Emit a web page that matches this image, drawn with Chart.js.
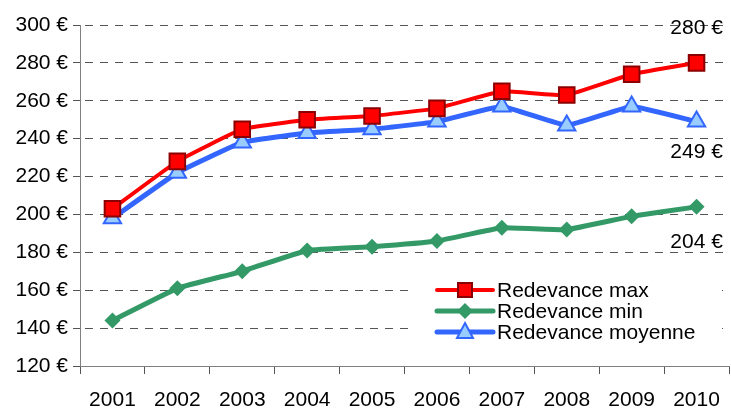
<!DOCTYPE html>
<html>
<head>
<meta charset="utf-8">
<script src="https://cdn.jsdelivr.net/npm/chart.js@4/dist/chart.umd.min.js"></script>
<style>
  html, body { margin: 0; padding: 0; background: #fff; }
  #wrap { width: 731px; height: 410px; }
</style>
</head>
<body>
<div id="wrap"><canvas id="chart-line"></canvas></div>
<script>
const years = ["2001", "2002", "2003", "2004", "2005", "2006", "2007", "2008", "2009", "2010"];
const redevanceMax = [203, 228, 245, 250, 252, 256, 265, 263, 274, 280];
const redevanceMin = [144, 161, 170, 181, 183, 186, 193, 192, 199, 204];
const redevanceMoyenne = [198, 222, 238, 243, 245, 249, 257, 247, 257, 249];
const yTicks = [120, 140, 160, 180, 200, 220, 240, 260, 280, 300];

const FONT = "Liberation Sans, Arial, sans-serif";

// value labels next to the last point of each series (dy in px)
const endLabels = [
  { dataset: 0, dy: -35 },
  { dataset: 2, dy: 31 },
  { dataset: 1, dy: 35 }
];

const endLabelPlugin = {
  id: 'endLabels',
  afterDatasetsDraw(chart) {
    const ctx = chart.ctx;
    ctx.save();
    ctx.font = "21px " + FONT;
    ctx.fillStyle = "#000";
    ctx.textAlign = "center";
    ctx.textBaseline = "middle";
    endLabels.forEach(l => {
      const meta = chart.getDatasetMeta(l.dataset);
      const pt = meta.data[meta.data.length - 1];
      const v = chart.data.datasets[l.dataset].data[meta.data.length - 1];
      ctx.fillText(v + " €", pt.x, pt.y + l.dy);
    });
    ctx.restore();
  }
};

function marker(ctx, ds, x, y) {
  ctx.save();
  ctx.fillStyle = ds.pointBackgroundColor;
  ctx.strokeStyle = ds.pointBorderColor;
  ctx.lineWidth = ds.pointBorderWidth;
  ctx.beginPath();
  if (ds.pointStyle === 'rect') {
    ctx.rect(x - 7, y - 7, 14, 14);
  } else if (ds.pointStyle === 'rectRot') {
    ctx.moveTo(x, y - 8); ctx.lineTo(x + 8, y); ctx.lineTo(x, y + 8); ctx.lineTo(x - 8, y); ctx.closePath();
  } else {
    ctx.moveTo(x, y - 9); ctx.lineTo(x + 8, y + 6); ctx.lineTo(x - 8, y + 6); ctx.closePath();
  }
  ctx.fill();
  if (ds.pointBorderWidth) ctx.stroke();
  ctx.restore();
}

const legendPlugin = {
  id: 'innerLegend',
  afterDraw(chart) {
    const ctx = chart.ctx;
    const x0 = 437, x1 = 493, y0 = 290, step = 21;
    ctx.save();
    ctx.fillStyle = "#fff";
    ctx.fillRect(411, 277, 311, 67);
    ctx.font = "21px " + FONT;
    ctx.textBaseline = "middle";
    chart.data.datasets.forEach((ds, i) => {
      const y = y0 + i * step;
      ctx.strokeStyle = ds.borderColor;
      ctx.lineWidth = ds.borderWidth;
      ctx.lineCap = "round";
      ctx.beginPath();
      ctx.moveTo(x0, y); ctx.lineTo(x1, y);
      ctx.stroke();
      marker(ctx, ds, (x0 + x1) / 2, y);
      ctx.fillStyle = "#000";
      ctx.fillText(ds.label, 497, y + 1);
    });
    ctx.restore();
  }
};

new Chart(document.getElementById("chart-line").getContext("2d"), {
  type: "line",
  data: {
    labels: years,
    datasets: [{
      label: "Redevance max",
      data: redevanceMax,
      borderColor: "#ff0000",
      borderWidth: 4,
      pointStyle: "rect",
      pointRadius: 11,
      pointBackgroundColor: "#ff0000",
      pointBorderColor: "#8b0000",
      pointBorderWidth: 2,
      tension: 0.1
    }, {
      label: "Redevance min",
      data: redevanceMin,
      borderColor: "#339966",
      borderWidth: 5,
      pointStyle: "rectRot",
      pointRadius: 8,
      pointBackgroundColor: "#339966",
      pointBorderColor: "#339966",
      pointBorderWidth: 0,
      tension: 0.1
    }, {
      label: "Redevance moyenne",
      data: redevanceMoyenne,
      borderColor: "#3366ff",
      borderWidth: 5,
      pointStyle: "triangle",
      pointRadius: 10,
      pointBackgroundColor: "#99ccff",
      pointBorderColor: "#3366ff",
      pointBorderWidth: 2,
      tension: 0.1
    }]
  },
  options: {
    responsive: true,
    maintainAspectRatio: false,
    animation: false,
    layout: { autoPadding: false, padding: { top: 25, right: 2, left: 0, bottom: 0 } },
    plugins: {
      legend: { display: false },
      tooltip: { enabled: false }
    },
    scales: {
      y: {
        min: 120,
        max: 300,
        afterFit(s) { s.width = 80; s.paddingTop = 0; s.paddingBottom = 0; },
        afterBuildTicks(s) { s.ticks = yTicks.map(v => ({ value: v })); },
        grid: {
          color: "#555555",
          tickColor: "#555555",
          tickLength: 7,
          drawTicks: true
        },
        border: { display: true, color: "#808080", width: 1, dash: [8, 7], dashOffset: -4 },
        ticks: {
          color: "#000",
          padding: 5,
          font: { family: FONT, size: 21 },
          callback: v => v + " €"
        }
      },
      x: {
        offset: true,
        afterFit(s) { s.height = 44; s.paddingLeft = 0; s.paddingRight = 0; },
        border: { display: true, color: "#808080", width: 1 },
        grid: {
          offset: true,
          drawOnChartArea: false,
          drawTicks: true,
          tickLength: 8,
          tickColor: "#555555"
        },
        ticks: {
          color: "#000",
          padding: 14,
          maxRotation: 0,
          font: { family: FONT, size: 21 }
        }
      }
    }
  },
  plugins: [endLabelPlugin, legendPlugin]
});
</script>
</body>
</html>
